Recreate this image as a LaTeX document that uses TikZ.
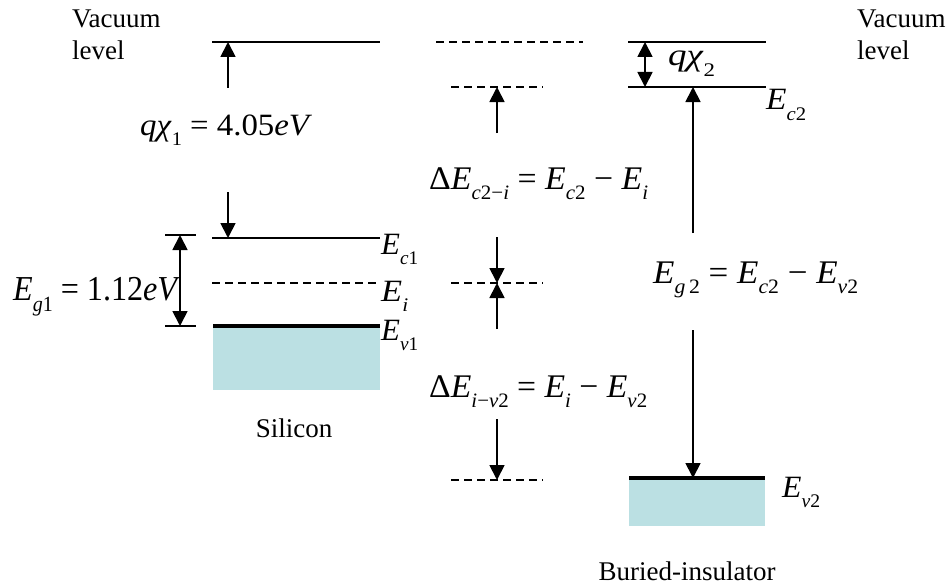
\documentclass[tikz,border=0pt]{standalone}
\usepackage{graphicx}
\usepackage{fontspec}
\setmainfont{Liberation Serif}
\usetikzlibrary{arrows.meta}
\definecolor{bandfill}{RGB}{187,224,227}
\newcommand\ite[1]{\textit{#1}}
\newcommand\sbs[1]{\raisebox{-0.33em}{\scalebox{0.62}{#1}}}
\newcommand\lab[3]{\resizebox{#1}{\height}{\fontsize{#2}{#2}\selectfont #3}}
\begin{document}
\begin{tikzpicture}[x=1pt,y=-1pt,
  every node/.style={inner sep=0pt},
  lvl/.style={line width=1.8pt},
  dlvl/.style={line width=1.6pt,dash pattern=on 7.5pt off 5.5pt},
  thk/.style={line width=3.6pt},
  arr/.style={line width=1.8pt,-{Triangle[width=15pt,length=15pt]}},
  darr/.style={line width=1.8pt,{Triangle[width=15pt,length=15pt]}-{Triangle[width=15pt,length=15pt]}},
  txt/.style={font=\fontsize{27}{30}\selectfont,anchor=base west},
  mlab/.style={anchor=base west}]
\path[use as bounding box] (0,0) rectangle (951,586);

% ---------- Silicon (left) ----------
\fill[bandfill] (213,327) rectangle (380,390);
\draw[lvl] (212,42) -- (380,42);
\draw[lvl] (212,238) -- (380,238);
\draw[dlvl] (212,283) -- (378,283);
\draw[thk] (213,326) -- (380,326);
\draw[lvl] (165,235) -- (196,235);
\draw[lvl] (165,326) -- (196,326);

\coordinate (a1s) at (228,88);  \coordinate (a1e) at (228,42);
\coordinate (a2s) at (228,192); \coordinate (a2e) at (228,238);
\coordinate (g1t) at (180,235); \coordinate (g1b) at (180,326);
\draw[arr] (a1s) -- (a1e);
\draw[arr] (a2s) -- (a2e);
\draw[darr] (g1t) -- (g1b);

% ---------- middle reference levels ----------
\draw[dlvl] (436,42) -- (583,42);
\draw[dlvl] (451,87) -- (543,87);
\draw[dlvl] (451,283) -- (543,283);
\draw[dlvl] (451,480) -- (543,480);
\coordinate (m1s) at (497,133); \coordinate (m1e) at (497,87);
\coordinate (m2s) at (497,237); \coordinate (m2e) at (497,283);
\coordinate (m3s) at (497,329); \coordinate (m3e) at (497,283);
\coordinate (m4s) at (497,419); \coordinate (m4e) at (497,480);
\draw[arr] (m1s) -- (m1e);
\draw[arr] (m2s) -- (m2e);
\draw[arr] (m3s) -- (m3e);
\draw[arr] (m4s) -- (m4e);

% ---------- Buried insulator (right) ----------
\fill[bandfill] (629,479) rectangle (765,526);
\draw[lvl] (628,42) -- (766,42);
\draw[lvl] (628,87) -- (766,87);
\draw[thk] (629,478) -- (765,478);
\coordinate (x2t) at (645,42);  \coordinate (x2b) at (645,87);
\coordinate (r1s) at (693,233); \coordinate (r1e) at (693,87);
\coordinate (r2s) at (693,330); \coordinate (r2e) at (693,478);
\draw[darr] (x2t) -- (x2b);
\draw[arr] (r1s) -- (r1e);
\draw[arr] (r2s) -- (r2e);

% ---------- texts ----------
\node[txt] (vacL) at (72,28) {Vacuum};
\node[txt] (levL) at (72,60) {level};
\node[txt] (vacR) at (857,28) {Vacuum};
\node[txt] (levR) at (857,60) {level};
\node[txt,anchor=base] (sil) at (294,437) {Silicon};
\node[txt,anchor=base] (bur) at (687,580) {Buried-insulator};

\node[mlab] (qchi1) at (140,135) {\lab{172pt}{31}{\ite{q}\ite{χ}\sbs{1} = 4.05\ite{eV}}};
\node[mlab] (eg1) at (13,300) {\lab{167pt}{35}{\ite{E}\sbs{\ite{g}1} = 1.12\ite{eV}}};
\node[mlab] (ec1) at (381,254) {\lab{37pt}{31}{\ite{E}\sbs{\ite{c}1}}};
\node[mlab] (ei) at (381,301) {\lab{27pt}{31}{\ite{E}\sbs{\ite{i}}}};
\node[mlab] (ev1) at (381,340) {\lab{37pt}{31}{\ite{E}\sbs{\ite{v}1}}};

\node[mlab] (dec) at (429,189) {\lab{219pt}{33}{Δ\ite{E}\sbs{\ite{c}2−\ite{i}} = \ite{E}\sbs{\ite{c}2} − \ite{E}\sbs{\ite{i}}}};
\node[mlab] (dev) at (429,397) {\lab{218pt}{33}{Δ\ite{E}\sbs{\ite{i}−\ite{v}2} = \ite{E}\sbs{\ite{i}} − \ite{E}\sbs{\ite{v}2}}};

\node[mlab] (qchi2) at (668,66) {\lab{47pt}{31}{\ite{q}\ite{χ}\sbs{2}}};
\node[mlab] (ec2) at (766,110) {\lab{40pt}{31}{\ite{E}\sbs{\ite{c}2}}};
\node[mlab] (eg2) at (653,283) {\lab{205pt}{33}{\ite{E}\sbs{\ite{g}\,2} = \ite{E}\sbs{\ite{c}2} − \ite{E}\sbs{\ite{v}2}}};
\node[mlab] (ev2) at (782,497) {\lab{38pt}{31}{\ite{E}\sbs{\ite{v}2}}};
\end{tikzpicture}
\end{document}
